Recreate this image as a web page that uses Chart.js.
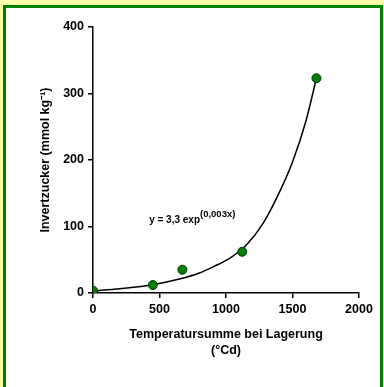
<!DOCTYPE html>
<html>
<head>
<meta charset="utf-8">
<script src="https://cdn.jsdelivr.net/npm/chart.js@4.4.0/dist/chart.umd.min.js"></script>
<style>
    html, body { margin: 0; padding: 0; background: #ffffaa; overflow: hidden; }
    #frame {
        position: absolute; left: 3px; top: 5px; width: 374px; height: 400px;
        background: #fff; border: 3px solid #008000; border-bottom: none;
    }
    #wrap { position: absolute; left: 0; top: 0; width: 384px; height: 387px; }
</style>
</head>
<body>
<div id="frame"></div>
<div id="wrap"><canvas id="chart"></canvas></div>
<script>
// Messpunkte
const tempSum = [0, 450, 672, 1122, 1680];
const invertSugar = [3.5, 12, 35, 62, 323];

// Ausgleichskurve
const fitX = [0, 200, 450, 650, 800, 900, 1030, 1155, 1280, 1410, 1500, 1600, 1680];
const fitY = [3, 6.5, 12.5, 21, 30, 39, 52.6, 72.6, 105, 155, 197, 258, 323];

const xTicks = [0, 500, 1000, 1500, 2000];
const yTicks = [0, 100, 200, 300, 400];

const eqMain = 'y = 3,3 exp';
const eqSup = '(0,003x)';
const eqPos = [422, 106];

const FONT = "'Liberation Sans', Arial, sans-serif";

// Gleichung mit Hochstellung zeichnen
const equationPlugin = {
    id: 'equation',
    afterDatasetsDraw(chart) {
        const ctx = chart.ctx;
        const px = chart.scales.x.getPixelForValue(eqPos[0]);
        const py = chart.scales.y.getPixelForValue(eqPos[1]);
        ctx.save();
        ctx.fillStyle = '#000';
        ctx.textBaseline = 'alphabetic';
        ctx.font = 'bold 10px ' + FONT;
        ctx.fillText(eqMain, px, py);
        const w = ctx.measureText(eqMain).width;
        ctx.font = 'bold 9.5px ' + FONT;
        ctx.fillText(eqSup, px + w, py - 6);
        ctx.restore();
    }
};

const ctx = document.getElementById('chart').getContext('2d');

new Chart(ctx, {
    type: 'scatter',
    data: {
        datasets: [
            {
                type: 'line',
                data: fitX.map((x, i) => ({ x: x, y: fitY[i] })),
                borderColor: '#000',
                borderWidth: 1.5,
                pointRadius: 0,
                fill: false,
                cubicInterpolationMode: 'monotone',
                order: 2
            },
            {
                data: tempSum.map((x, i) => ({ x: x, y: invertSugar[i] })),
                backgroundColor: '#008000',
                borderColor: '#003300',
                borderWidth: 1,
                pointRadius: 4.5,
                order: 1
            }
        ]
    },
    options: {
        responsive: true,
        maintainAspectRatio: false,
        animation: false,
        events: [],
        layout: {
            padding: { left: 0, right: 25, top: 27, bottom: 0 }
        },
        plugins: {
            legend: { display: false },
            tooltip: { enabled: false }
        },
        scales: {
            x: {
                type: 'linear',
                min: 0,
                max: 2000,
                afterBuildTicks: (scale) => { scale.ticks = xTicks.map(v => ({ value: v })); },
                afterFit: (scale) => { scale.height = 94; },
                border: { color: '#000', width: 1.5 },
                grid: { drawOnChartArea: false, drawTicks: true, tickLength: 5, color: '#000', lineWidth: 1.5 },
                ticks: {
                    color: '#000',
                    padding: 4,
                    font: { size: 12.5, weight: 'bold', family: FONT },
                    callback: (value) => String(value)
                },
                title: {
                    display: true,
                    text: ['Temperatursumme bei Lagerung', '(°Cd)'],
                    color: '#000',
                    font: { size: 12.5, weight: 'bold', family: FONT, lineHeight: 1.3 },
                    padding: { top: 0, bottom: 28 }
                }
            },
            y: {
                min: 0,
                max: 400,
                afterBuildTicks: (scale) => { scale.ticks = yTicks.map(v => ({ value: v })); },
                afterFit: (scale) => { scale.width = 93; },
                border: { color: '#000', width: 1.5 },
                grid: { drawOnChartArea: false, drawTicks: true, tickLength: 5, color: '#000', lineWidth: 1.5 },
                ticks: {
                    color: '#000',
                    padding: 4,
                    font: { size: 12.5, weight: 'bold', family: FONT },
                    callback: (value) => String(value)
                },
                title: {
                    display: true,
                    text: 'Invertzucker (mmol kg⁻¹)',
                    color: '#000',
                    font: { size: 12.5, weight: 'bold', family: FONT },
                    padding: { top: 38, bottom: 0 }
                }
            }
        }
    },
    plugins: [equationPlugin]
});
</script>
</body>
</html>
